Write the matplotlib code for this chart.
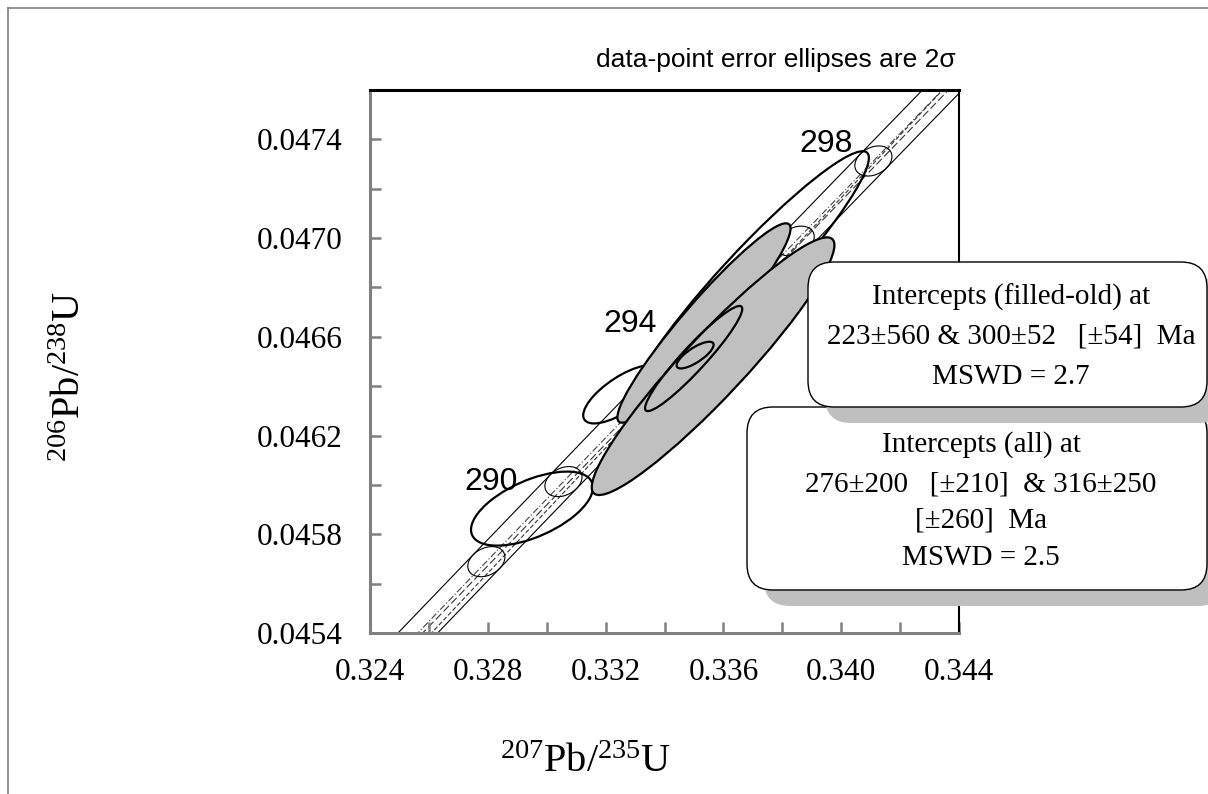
import numpy as np
import matplotlib
matplotlib.use("Agg")
import matplotlib.pyplot as plt
from matplotlib.patches import Ellipse, FancyBboxPatch
from matplotlib.lines import Line2D

plt.rcParams['mathtext.fontset'] = 'custom'
plt.rcParams['mathtext.rm'] = 'Liberation Serif'
plt.rcParams['mathtext.it'] = 'Liberation Serif:italic'
plt.rcParams['mathtext.bf'] = 'Liberation Serif:bold'

# Decay constants (1/yr)
LAMBDA_238 = 1.55125e-10
LAMBDA_235 = 9.8485e-10

# Concordia age markers (Ma); every second one carries a label
marker_ages = [288, 290, 292, 294, 296, 298]
labelled_ages = [290, 294, 298]
# Decay-constant error ellipse of each marker (2 sigma)
marker_sx = 0.00063
marker_sy = 0.000061
marker_rho = 0.3

# Analyses in plotting order: 207Pb/235U, 2s, 206Pb/238U, 2s, rho, filled
pb207_u235 = [0.32950, 0.33256, 0.33690, 0.33534, 0.33565, 0.33499, 0.33504]
pb207_err = [0.00207, 0.00132, 0.00404, 0.00294, 0.00412, 0.00165, 0.000628]
pb206_u238 = [0.045904, 0.046367, 0.046835, 0.046656, 0.046481, 0.046512, 0.046526]
pb206_err = [0.000150, 0.000118, 0.000517, 0.000404, 0.000522, 0.000213, 0.0000541]
err_rho = [0.57, 0.72, 0.947, 0.947, 0.939, 0.943, 0.77]
is_filled = [False, False, False, True, True, False, False]

# Discordia intercepts (Ma)
intercepts_old = (223, 300)
intercepts_all = (276, 316)

x_ticks = [0.324, 0.326, 0.328, 0.330, 0.332, 0.334, 0.336, 0.338, 0.340, 0.342, 0.344]
x_tick_labels = ['0.324', '', '0.328', '', '0.332', '', '0.336', '', '0.340', '', '0.344']
y_ticks = [0.0454, 0.0456, 0.0458, 0.0460, 0.0462, 0.0464, 0.0466, 0.0468, 0.0470,
           0.0472, 0.0474, 0.0476]
y_tick_labels = ['0.0454', '', '0.0458', '', '0.0462', '', '0.0466', '', '0.0470',
                 '', '0.0474', '']

box_old_lines = ['Intercepts (filled-old) at',
                 '223\u00b1560 & 300\u00b152   [\u00b154]  Ma',
                 'MSWD = 2.7']
box_all_lines = ['Intercepts (all) at',
                 '276\u00b1200   [\u00b1210]  & 316\u00b1250',
                 '[\u00b1260]  Ma',
                 'MSWD = 2.5']


def concordia(t_ma):
    t = np.asarray(t_ma, dtype=float) * 1e6
    return np.expm1(LAMBDA_235 * t), np.expm1(LAMBDA_238 * t)


def err_ellipse(x, sx, y, sy, r, **kw):
    cov = np.array([[sx * sx, r * sx * sy], [r * sx * sy, sy * sy]])
    vals, vecs = np.linalg.eigh(cov)
    major = vecs[:, 1]
    angle = np.degrees(np.arctan2(major[1], major[0]))
    return Ellipse((x, y), 2 * np.sqrt(vals[1]), 2 * np.sqrt(vals[0]),
                   angle=angle, **kw)


W, H = 1208, 794
fig = plt.figure(figsize=(W / 100, H / 100), dpi=100)
ax = fig.add_axes([370 / W, 1 - 633 / H, (959 - 370) / W, (633 - 90) / H])
ax.set_xlim(0.324, 0.344)
ax.set_ylim(0.0454, 0.0476)

# Concordia with its decay-constant band
t_curve = np.linspace(270, 320, 600)
cx, cy = concordia(t_curve)
tt = t_curve * 1e6
slope = (LAMBDA_238 * np.exp(LAMBDA_238 * tt)) / (LAMBDA_235 * np.exp(LAMBDA_235 * tt))
sxx, syy, sxy = marker_sx ** 2, marker_sy ** 2, marker_rho * marker_sx * marker_sy
half = np.sqrt(slope ** 2 * sxx - 2 * slope * sxy + syy) / slope
ax.plot(cx - half, cy, color='black', lw=0.8, zorder=1)
ax.plot(cx + half, cy, color='black', lw=0.8, zorder=1)
ax.plot(cx, cy, color='#444444', lw=0.8, ls=(0, (6, 2, 1, 2)), zorder=1)

# Discordia lines through the intercept pairs
xs = np.array([0.320, 0.350])
for ages, dash in ((intercepts_old, (0, (4, 2))), (intercepts_all, (0, (7, 3)))):
    (x1, x2), (y1, y2) = concordia(ages)
    m = (y2 - y1) / (x2 - x1)
    ax.plot(xs, y1 + m * (xs - x1), color='#333333', lw=0.8, ls=dash, zorder=1)

# Age markers
mx, my = concordia(marker_ages)
for x, y in zip(mx, my):
    ax.add_patch(err_ellipse(x, marker_sx, y, marker_sy, marker_rho,
                             fill=False, ec='black', lw=0.8, zorder=2))

label_offsets = {290: (-52, 0), 294: (-63, -2), 298: (-34, 12)}
lx, ly = concordia(labelled_ages)
for age, x, y in zip(labelled_ages, lx, ly):
    ax.annotate(str(age), xy=(x, y), xytext=label_offsets[age],
                textcoords='offset points', ha='center', va='center',
                fontfamily='Liberation Sans', fontsize=23, zorder=20)

# Data-point error ellipses
for i, (x, sx, y, sy, r, f) in enumerate(zip(pb207_u235, pb207_err, pb206_u238,
                                            pb206_err, err_rho, is_filled)):
    ax.add_patch(err_ellipse(x, sx, y, sy, r, fill=f, fc='#C0C0C0',
                             ec='black', lw=1.6, zorder=3 + i))

# Axes styling
ax.set_xticks(x_ticks)
ax.set_xticklabels(x_tick_labels)
ax.set_yticks(y_ticks)
ax.set_yticklabels(y_tick_labels)
ax.tick_params(direction='in', length=8, width=1.8, color='#808080',
               labelsize=22.5)
ax.tick_params(axis='x', pad=18)
ax.tick_params(axis='y', pad=20)
for lab in ax.get_xticklabels() + ax.get_yticklabels():
    lab.set_fontfamily('Liberation Serif')
ax.spines['left'].set_color('#808080')
ax.spines['bottom'].set_color('#808080')
ax.spines['left'].set_linewidth(2.2)
ax.spines['bottom'].set_linewidth(2.2)
ax.spines['top'].set_linewidth(2.2)
ax.spines['right'].set_linewidth(1.5)

# Overlay in pixel units for the frame, labels and result boxes
ov = fig.add_axes([0, 0, 1, 1])
ov.set_xlim(0, W)
ov.set_ylim(H, 0)
ov.axis('off')
ov.set_zorder(5)

ov.add_line(Line2D([8, 8], [8, H + 5], color='#808080', lw=1.2))
ov.add_line(Line2D([8, W + 5], [8, 8], color='#808080', lw=1.2))

ov.text(956, 60, 'data-point error ellipses are 2\u03c3', ha='right', va='center',
        fontfamily='Liberation Sans', fontsize=19)
ov.text(70, 376, r'$^{206}$Pb/$^{238}$U', rotation=90, ha='center', va='center',
        fontfamily='Liberation Serif', fontsize=29)
ov.text(586, 762, r'$^{207}$Pb/$^{235}$U', ha='center', va='center',
        fontfamily='Liberation Serif', fontsize=29)


def result_box(x0, y0, w, h, lines, cx, ys, z):
    ov.add_patch(FancyBboxPatch((x0 + 17, y0 + 16), w, h,
                                boxstyle='round,pad=0,rounding_size=26',
                                fc='#BFBFBF', ec='none', zorder=z))
    ov.add_patch(FancyBboxPatch((x0, y0), w, h,
                                boxstyle='round,pad=0,rounding_size=26',
                                fc='white', ec='black', lw=1.0, zorder=z + 1))
    for s, yy in zip(lines, ys):
        ov.text(cx, yy, s, ha='center', va='center', fontfamily='Liberation Serif',
                fontsize=21, zorder=z + 2)


result_box(747, 407, 460, 183, box_all_lines, 981, [445, 485, 520, 558], 10)
result_box(808, 262, 399, 145, box_old_lines, 1011, [297, 337, 377], 20)

fig.savefig('out.png', dpi=100)
